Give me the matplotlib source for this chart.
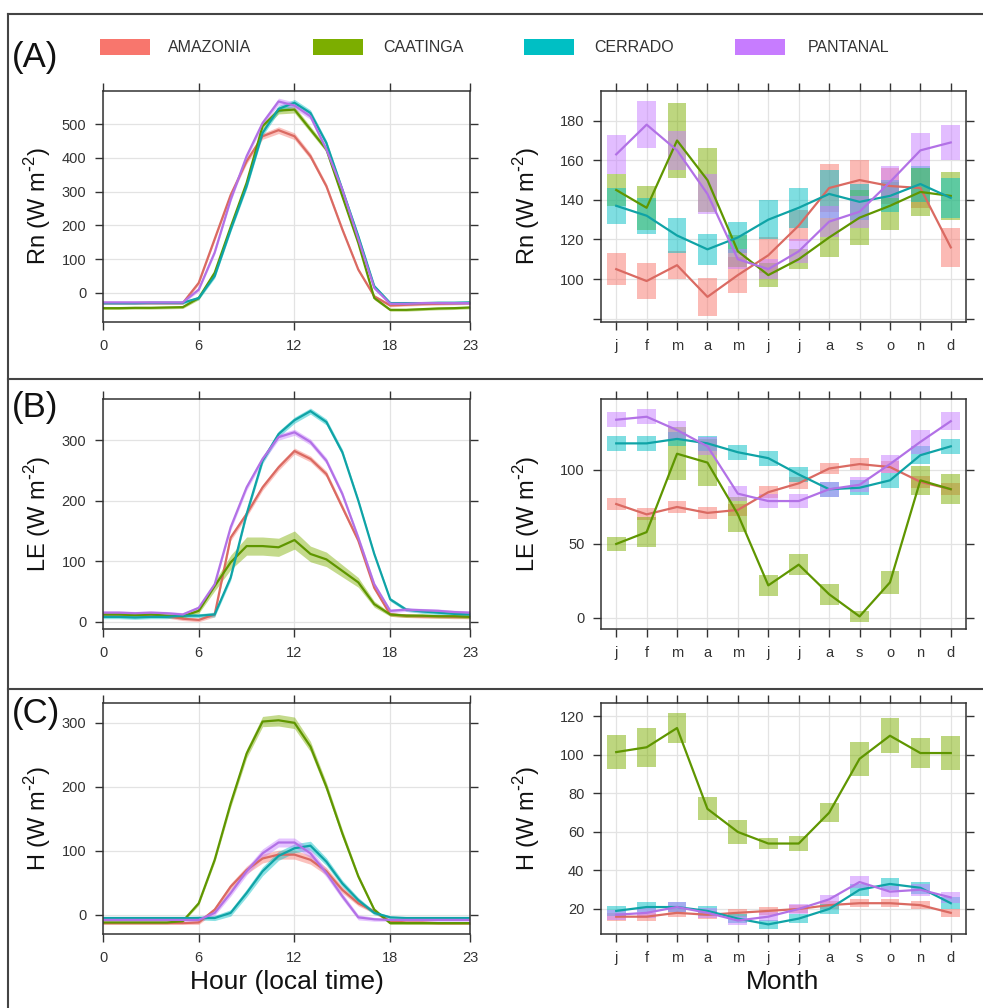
import numpy as np
import matplotlib
matplotlib.use('Agg')
import matplotlib.pyplot as plt
from matplotlib.patches import Rectangle
from matplotlib.lines import Line2D

plt.rcParams['font.family'] = ['Liberation Sans', 'DejaVu Sans']

# ---- data ----
biomes = ["AMAZONIA", "CAATINGA", "CERRADO", "PANTANAL"]
fill_colors = ["#F8766D", "#7CAE00", "#00BFC4", "#C77CFF"]
line_colors = ["#DA6A62", "#5F9600", "#0FA3A6", "#B271E6"]

hours = list(range(24))
hour_ticks = [0, 6, 12, 18, 23]
months = list(range(1, 13))
month_labels = ["j", "f", "m", "a", "m", "j", "j", "a", "s", "o", "n", "d"]

# diurnal Rn
rn_hour_amz = [-30, -30, -30, -30, -30, -30, 30, 160, 290, 390, 464, 482,
               464, 405, 316, 188, 69, -10, -37, -35, -33, -32, -31, -30]
rn_hour_caa = [-45, -45, -44, -44, -43, -42, -15, 60, 195, 326, 494, 540,
               543, 484, 425, 286, 148, -15, -50, -50, -48, -46, -45, -43]
rn_hour_cer = [-30, -30, -30, -29, -29, -29, -15, 50, 187, 316, 474, 545,
               563, 533, 444, 306, 168, 20, -30, -30, -30, -29, -29, -28]
rn_hour_pan = [-28, -28, -28, -28, -28, -28, 10, 120, 276, 405, 503, 567,
               555, 523, 425, 306, 160, 15, -32, -32, -30, -30, -30, -30]
rn_hour_ci = [4, 4, 4, 4, 4, 4, 5, 6, 7, 8, 9, 10, 10, 9, 8, 7, 6, 5, 4, 4, 4, 4, 4, 4]

# diurnal LE
le_hour_amz = [12, 12, 11, 11, 9, 5, 3, 12, 139, 178, 222, 255,
               282, 269, 244, 189, 134, 56, 12, 10, 9, 9, 8, 8]
le_hour_caa = [12, 12, 11, 12, 10, 9, 18, 59, 98, 125, 125, 123,
               135, 112, 103, 84, 65, 29, 12, 10, 10, 9, 9, 8]
le_hour_cer = [8, 8, 7, 8, 8, 10, 10, 12, 73, 178, 266, 310,
               333, 348, 330, 280, 200, 112, 37, 20, 17, 15, 13, 12]
le_hour_pan = [15, 15, 14, 15, 14, 12, 23, 62, 156, 222, 269, 305,
               313, 297, 266, 211, 139, 62, 18, 20, 19, 18, 16, 15]
le_hour_ci = [3, 3, 3, 3, 3, 3, 3, 4, 5, 5, 5, 5, 5, 5, 5, 5, 4, 3, 3, 3, 3, 3, 3, 3]
le_hour_caa_ci = [3, 3, 3, 3, 3, 3, 4, 8, 12, 15, 15, 15, 15, 13, 12, 10, 8, 5, 3, 3, 3, 3, 3, 3]

# diurnal H
h_hour_amz = [-13, -13, -13, -13, -13, -13, -12, 8, 44, 70, 88, 94,
              94, 86, 68, 39, 18, 5, -10, -12, -12, -13, -13, -13]
h_hour_caa = [-12, -12, -12, -12, -12, -10, 18, 86, 174, 252, 302, 304,
              300, 263, 200, 127, 60, 8, -13, -13, -13, -13, -13, -13]
h_hour_cer = [-5, -5, -5, -5, -5, -5, -5, -5, 3, 34, 68, 92,
              104, 108, 83, 49, 23, 3, -4, -5, -5, -5, -5, -5]
h_hour_pan = [-8, -8, -8, -8, -8, -8, -8, 3, 34, 68, 96, 113,
              113, 96, 65, 29, -4, -7, -8, -8, -8, -8, -8, -8]
h_hour_ci = [2, 2, 2, 2, 2, 2, 3, 4, 5, 6, 7, 7, 7, 7, 6, 5, 4, 3, 2, 2, 2, 2, 2, 2]
h_hour_caa_ci = [2, 2, 2, 2, 2, 2, 3, 4, 6, 7, 8, 9, 9, 8, 7, 6, 4, 3, 2, 2, 2, 2, 2, 2]

# monthly Rn
rn_mon_amz = [105, 99, 107, 91, 102, 112, 127, 146, 150, 147, 146, 116]
rn_mon_caa = [145, 136, 170, 150, 114, 102, 110, 121, 131, 137, 144, 142]
rn_mon_cer = [137, 132, 122, 115, 121, 130, 136, 143, 139, 142, 148, 141]
rn_mon_pan = [163, 178, 165, 143, 110, 105, 114, 129, 134, 149, 165, 169]
rn_mon_amz_ci = [8, 9, 7, 9.5, 9, 9, 8, 12, 10, 9, 10, 10]
rn_mon_caa_ci = [8, 11, 19, 16, 8, 6, 5, 10, 14, 12, 12, 12]
rn_mon_cer_ci = [9, 9, 9, 8, 8, 10, 10, 12, 9, 8, 9, 10]
rn_mon_pan_ci = [10, 12, 10, 10, 5, 5, 6, 8, 8, 8, 9, 9]

# monthly LE
le_mon_amz = [77, 70, 75, 71, 73, 85, 91, 101, 104, 102, 92, 87]
le_mon_caa = [50, 58, 111, 105, 70, 22, 36, 16, 1, 24, 93, 87]
le_mon_cer = [118, 118, 121, 118, 112, 108, 97, 87, 88, 93, 110, 116]
le_mon_pan = [134, 136, 127, 116, 84, 79, 79, 87, 90, 104, 119, 133]
le_mon_amz_ci = [4, 4, 4, 4, 4, 4, 4, 4, 4, 4, 4, 4]
le_mon_caa_ci = [5, 10, 18, 16, 12, 7, 7, 7, 4, 8, 10, 10]
le_mon_cer_ci = [5, 5, 5, 5, 5, 5, 5, 5, 5, 5, 6, 5]
le_mon_pan_ci = [5, 5, 6, 6, 5, 5, 5, 5, 5, 6, 8, 6]

# monthly H
h_mon_amz = [16, 16, 18, 17, 18, 19, 20, 22, 23, 23, 22, 18]
h_mon_caa = [101.5, 104, 114, 72, 60, 54, 54, 70, 98, 110, 101, 101]
h_mon_cer = [19, 21, 21, 19, 15, 12, 15, 20, 30, 33, 31, 23]
h_mon_pan = [17, 18, 21, 18, 14, 16, 20, 25, 34, 29, 30, 26]
h_mon_amz_ci = [2, 2, 2, 2, 2, 2, 2, 2, 2, 2, 2, 2]
h_mon_caa_ci = [9, 10, 8, 6, 6, 3, 4, 5, 9, 9, 8, 9]
h_mon_cer_ci = [2.5, 2.5, 2.5, 2.5, 2.5, 2.5, 2.5, 2.5, 3, 3, 3, 3]
h_mon_pan_ci = [2.5, 2.5, 2.5, 2.5, 2.5, 2.5, 2.5, 2.5, 3, 3, 3, 3]

# ---- figure ----
W, H = 983, 1008
fig = plt.figure(figsize=(W / 100, H / 100), dpi=100)


def px_axes(x0, y0, x1, y1):
    return fig.add_axes([x0 / W, 1 - y1 / H, (x1 - x0) / W, (y1 - y0) / H])


def style_axes(ax, xticks, xlabels, yticks, ylabels):
    ax.set_xticks(xticks)
    ax.set_xticklabels(xlabels)
    ax.set_yticks(yticks)
    ax.set_yticklabels(ylabels)
    ax.tick_params(direction='out', length=6, width=1, colors='#333333',
                   labelsize=10.5, top=True, right=True, pad=6)
    ax.grid(True, color='#e3e3e3', lw=0.9)
    ax.set_axisbelow(True)
    for s in ax.spines.values():
        s.set_color('#333333')
        s.set_linewidth(1.1)


def diurnal(ax, series, cis, ylim, yticks):
    for vals, ci, fc, lc in zip(series, cis, fill_colors, line_colors):
        v = np.array(vals, dtype=float)
        c = np.array(ci, dtype=float)
        ax.fill_between(hours, v - c, v + c, color=fc, alpha=0.45, lw=0)
        ax.plot(hours, v, color=lc, lw=1.6)
    ax.set_xlim(0, 23)
    ax.set_ylim(*ylim)
    style_axes(ax, hour_ticks, [str(h) for h in hour_ticks], yticks, [str(t) for t in yticks])


def monthly(ax, series, cis, ylim, yticks, ylabels):
    for vals, ci, fc, lc in zip(series, cis, fill_colors, line_colors):
        v = np.array(vals, dtype=float)
        c = np.array(ci, dtype=float)
        ax.bar(months, 2 * c, bottom=v - c, width=0.62, color=fc, alpha=0.5, lw=0)
        ax.plot(months, v, color=lc, lw=1.6)
    ax.set_xlim(0.5, 12.5)
    ax.set_ylim(*ylim)
    style_axes(ax, months, month_labels, yticks, ylabels)


rows = [(91, 322), (399, 629), (703, 934)]

# row A
ax = px_axes(103, rows[0][0], 470, rows[0][1])
diurnal(ax, [rn_hour_amz, rn_hour_caa, rn_hour_cer, rn_hour_pan],
        [rn_hour_ci] * 4, (-86, 598), [0, 100, 200, 300, 400, 500])
ax = px_axes(601, rows[0][0], 966, rows[0][1])
monthly(ax, [rn_mon_amz, rn_mon_caa, rn_mon_cer, rn_mon_pan],
        [rn_mon_amz_ci, rn_mon_caa_ci, rn_mon_cer_ci, rn_mon_pan_ci],
        (78.3, 195), [80, 100, 120, 140, 160, 180], ["", "100", "120", "140", "160", "180"])

# row B
ax = px_axes(103, rows[1][0], 470, rows[1][1])
diurnal(ax, [le_hour_amz, le_hour_caa, le_hour_cer, le_hour_pan],
        [le_hour_ci, le_hour_caa_ci, le_hour_ci, le_hour_ci], (-12, 368), [0, 100, 200, 300])
ax = px_axes(601, rows[1][0], 966, rows[1][1])
monthly(ax, [le_mon_amz, le_mon_caa, le_mon_cer, le_mon_pan],
        [le_mon_amz_ci, le_mon_caa_ci, le_mon_cer_ci, le_mon_pan_ci],
        (-7.5, 148), [0, 50, 100], ["0", "50", "100"])

# row C
ax = px_axes(103, rows[2][0], 470, rows[2][1])
diurnal(ax, [h_hour_amz, h_hour_caa, h_hour_cer, h_hour_pan],
        [h_hour_ci, h_hour_caa_ci, h_hour_ci, h_hour_ci], (-30, 331), [0, 100, 200, 300])
ax = px_axes(601, rows[2][0], 966, rows[2][1])
monthly(ax, [h_mon_amz, h_mon_caa, h_mon_cer, h_mon_pan],
        [h_mon_amz_ci, h_mon_caa_ci, h_mon_cer_ci, h_mon_pan_ci],
        (7, 127), [20, 40, 60, 80, 100, 120], ["20", "40", "60", "80", "100", "120"])

# y labels (superscript with a short hyphen, as in the original)
ylabels = [r"Rn (W m$^{\mathregular{\text{-}2}}$)", r"LE (W m$^{\mathregular{\text{-}2}}$)",
           r"H (W m$^{\mathregular{\text{-}2}}$)"]
for (y0, y1), lab in zip(rows, ylabels):
    yc = 1 - (y0 + y1) / 2 / H
    fig.text(38 / W, yc, lab, rotation=90, ha='center', va='center', fontsize=17, color='#111111')
    fig.text(527 / W, yc, lab, rotation=90, ha='center', va='center', fontsize=17, color='#111111')

# x labels
fig.text(287 / W, 1 - 982 / H, "Hour (local time)", ha='center', va='center', fontsize=19, color='#111111')
fig.text(783 / W, 1 - 982 / H, "Month", ha='center', va='center', fontsize=19, color='#111111')

# panel letters
for lab, yc in zip(["(A)", "(B)", "(C)"], [58, 407, 714]):
    fig.text(12 / W, 1 - yc / H, lab, ha='left', va='center', fontsize=25, color='#111111')

# legend
leg_patch_x = [100, 313, 524, 735]
leg_text_x = [168, 383, 594, 808]
for name, fc, px, tx in zip(biomes, fill_colors, leg_patch_x, leg_text_x):
    fig.add_artist(Rectangle((px / W, 1 - 55 / H), 50 / W, 16 / H, transform=fig.transFigure,
                             facecolor=fc, edgecolor='none'))
    fig.text(tx / W, 1 - 47 / H, name, ha='left', va='center', fontsize=11.5, color='#333333')

# outer frame and separators
frame = dict(color='#444444', lw=1.5, transform=fig.transFigure)
fig.add_artist(Line2D([8 / W, 1], [1 - 14 / H, 1 - 14 / H], **frame))
fig.add_artist(Line2D([8 / W, 8 / W], [0, 1 - 14 / H], **frame))
for ys in [379, 689]:
    fig.add_artist(Line2D([8 / W, 1], [1 - ys / H, 1 - ys / H], **frame))

fig.savefig("out.png", dpi=100)
